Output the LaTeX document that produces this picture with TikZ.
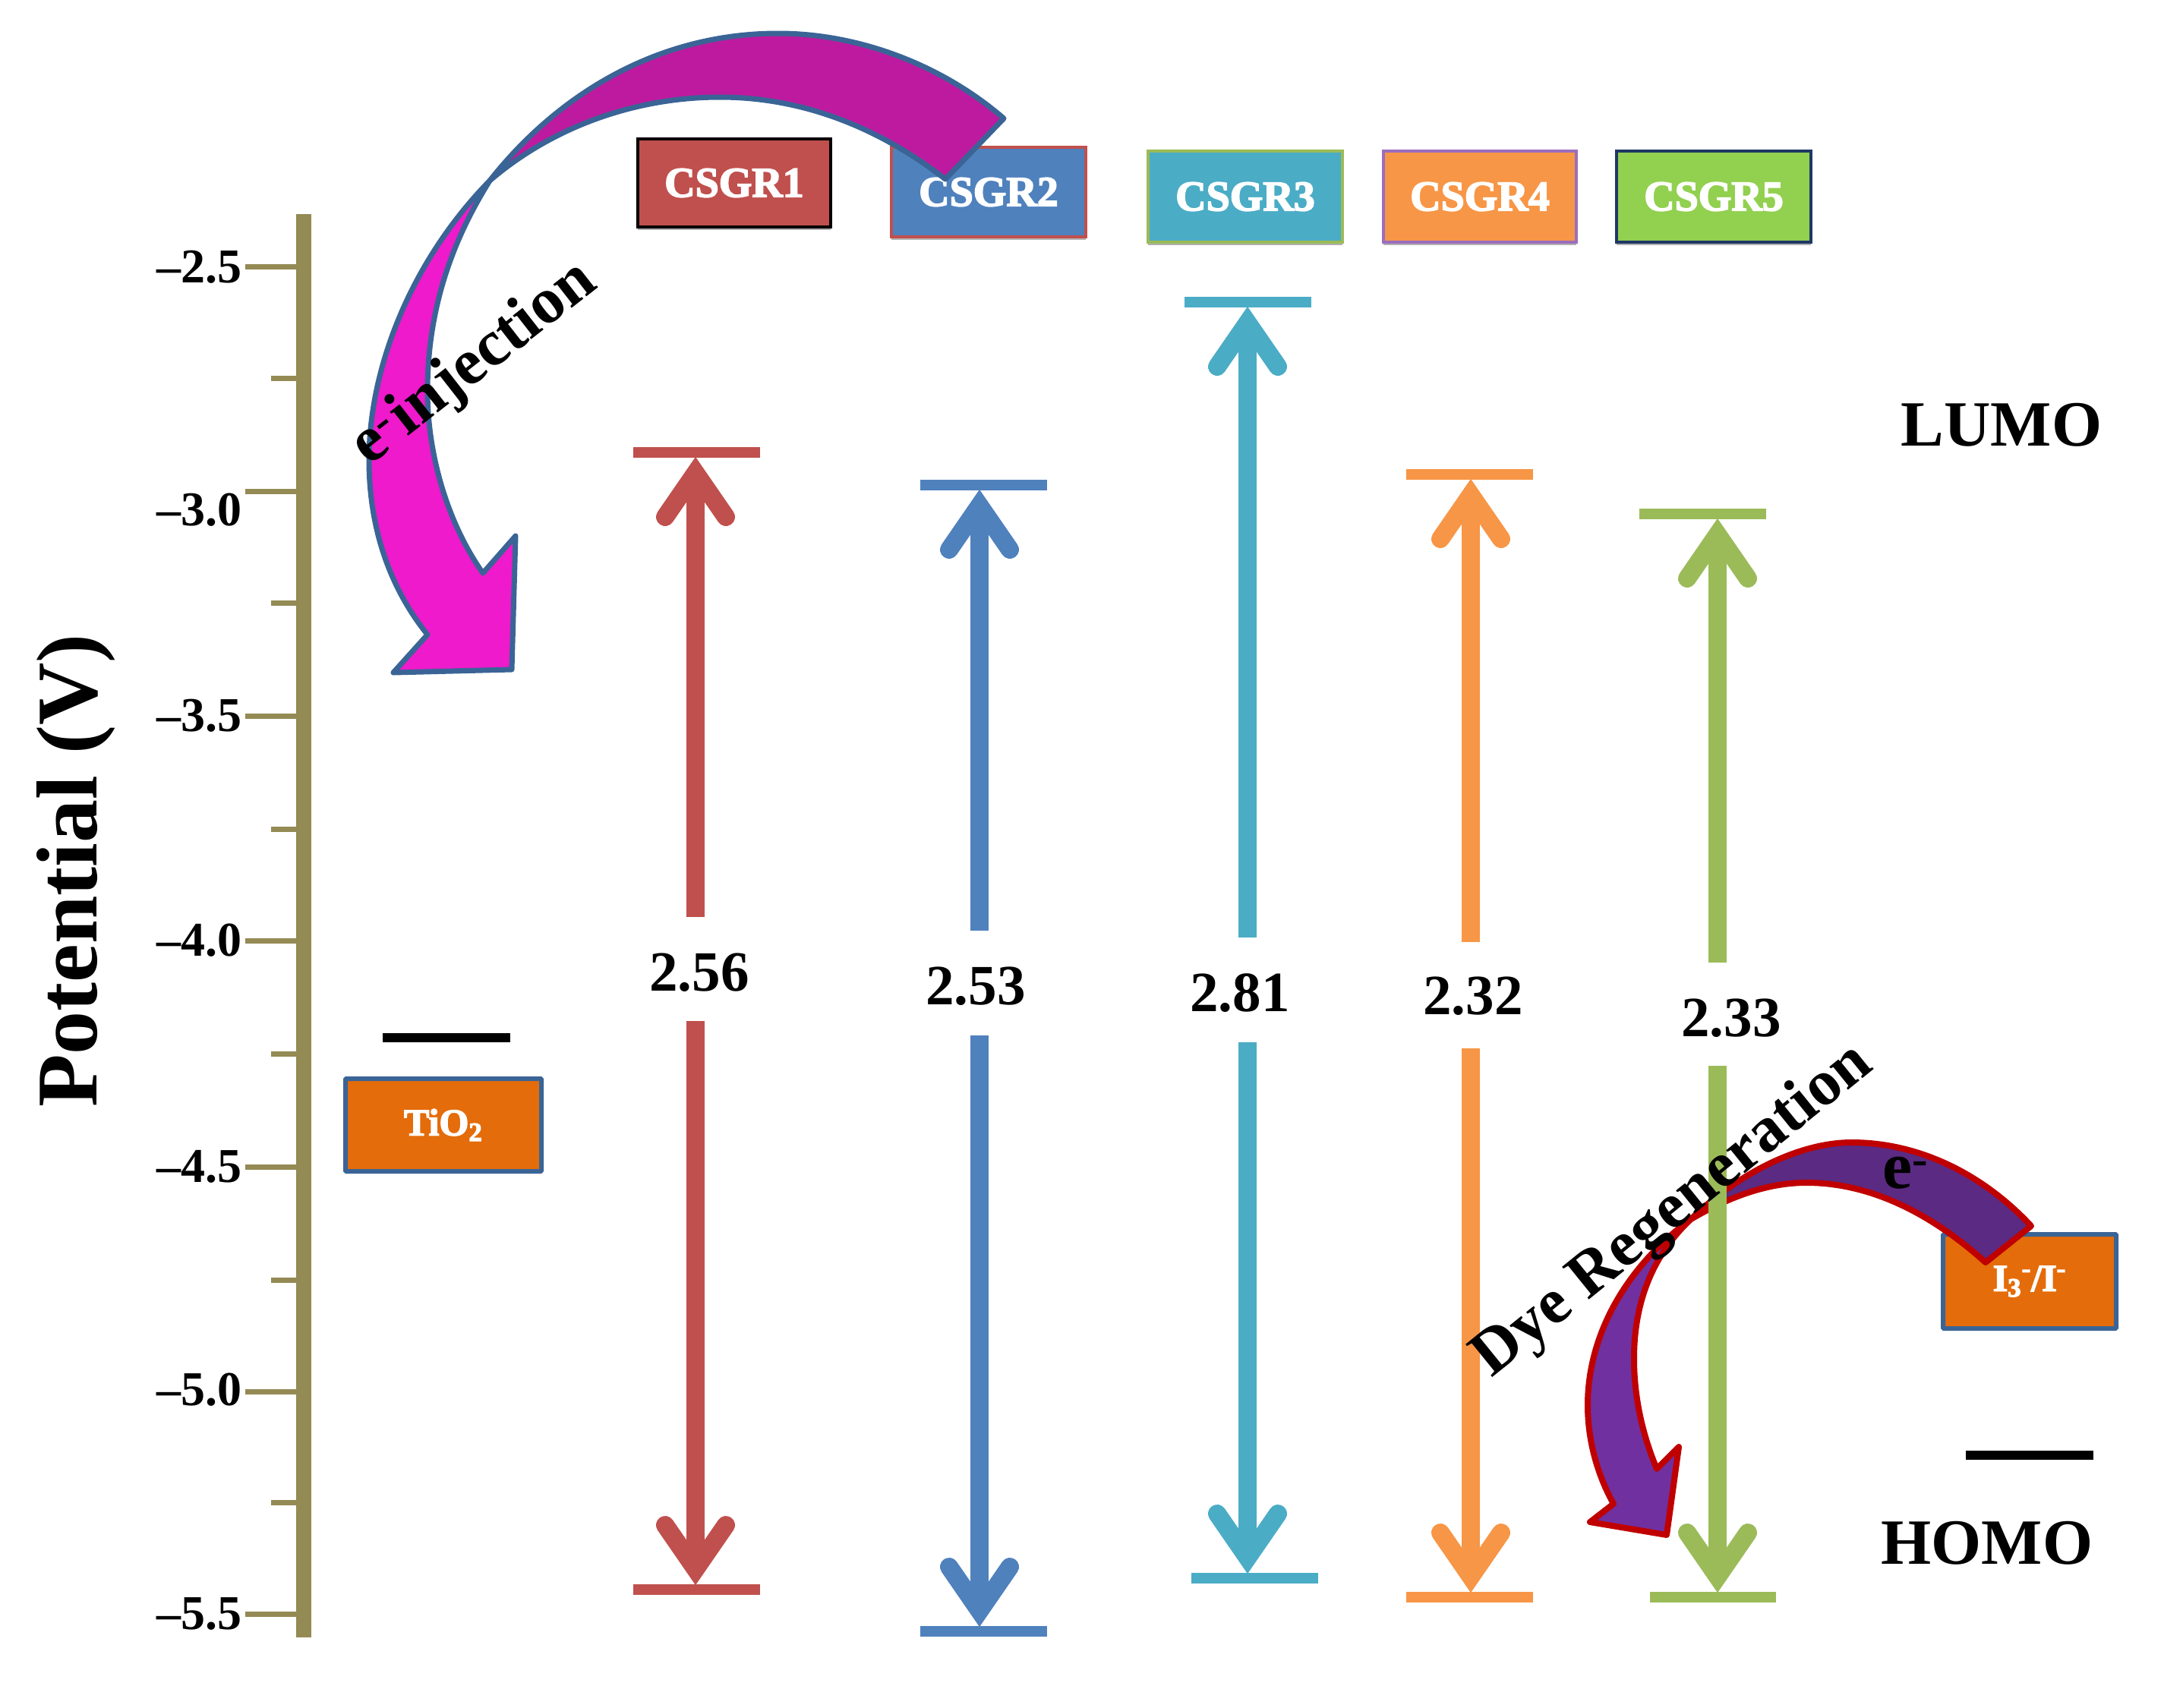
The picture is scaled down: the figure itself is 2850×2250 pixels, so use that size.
\documentclass[tikz,border=0pt]{standalone}
\usepackage{fontspec}
\setmainfont{Liberation Serif}
\usetikzlibrary{shadows}
\newfontfamily\fatserif[FakeBold=3]{Liberation Serif Bold}
\definecolor{axisc}{HTML}{948A54}
\definecolor{cone}{HTML}{C0504D}
\definecolor{ctwo}{HTML}{4F81BD}
\definecolor{cthree}{HTML}{4BACC6}
\definecolor{cfour}{HTML}{F79646}
\definecolor{cfive}{HTML}{9BBB59}
\definecolor{cfivebox}{HTML}{92D050}
\definecolor{navy}{HTML}{1F3864}
\definecolor{orangeb}{HTML}{E46C0A}
\definecolor{steel}{HTML}{3B6496}
\definecolor{magup}{HTML}{BE1AA0}
\definecolor{maglow}{HTML}{EE1ACB}
\definecolor{purpup}{HTML}{5B2A82}
\definecolor{purplow}{HTML}{7030A0}
\definecolor{darkred}{HTML}{C00000}
\tikzset{
  lab/.style={font=\bfseries\fontsize{#1}{#1}\selectfont, inner sep=0pt, text=black},
  lab/.default={37.5pt},
  dyebox/.style={draw=#1, line width=2pt, inner sep=0pt,
    font=\fatserif\fontsize{28pt}{28pt}\selectfont, text=white,
    drop shadow={shadow xshift=0pt, shadow yshift=-2pt, opacity=.3, fill=black}},
  bandbox/.style={draw=steel, fill=orangeb, line width=3pt, inner sep=0pt, rounded corners=.6pt,
    font=\fatserif\fontsize{25pt}{25pt}\selectfont, text=white},
  majort/.style={draw=axisc, line width=3.5pt},
  softshadow/.style={preaction={draw=black,draw opacity=.14,transform canvas={yshift=-2pt}}},
  lvl/.style={line width=7pt,softshadow},
  blackbar/.style={line width=6pt, draw=black,softshadow},
  shaft/.style={line width=12pt},
  headv/.style={line width=12pt, line cap=round, line join=miter},
  magborder/.style={draw=steel, line width=3.5pt, line join=round},
  purpborder/.style={draw=darkred, line width=4pt, line join=round},
}
\newcommand{\levels}[9]{%
  % #1 name #2 x #3 lumo y #4 #5 lumo bar #6 homo y #7 #8 homo bar #9 color
  \coordinate (#1top) at (#2,#3);
  \coordinate (#1bot) at (#2,#6);
  \coordinate (#1topL) at (#4,#3);
  \coordinate (#1topR) at (#5,#3);
  \coordinate (#1botL) at (#7,#6);
  \coordinate (#1botR) at (#8,#6);
  \draw[lvl,draw=#9] (#1topL) -- (#1topR);
  \draw[lvl,draw=#9] (#1botL) -- (#1botR);
  \draw[headv,draw=#9] ([shift={(-40,85)}]#1top) -- ([shift={(0,27)}]#1top) -- ([shift={(40,85)}]#1top);
  \draw[headv,draw=#9] ([shift={(-40,-85)}]#1bot) -- ([shift={(0,-27)}]#1bot) -- ([shift={(40,-85)}]#1bot);
}
\newcommand{\shafts}[4]{%
  % #1 name #2 gap top y #3 gap bottom y #4 color
  \draw[shaft,draw=#4] ([yshift=-13.5pt]#1top) -- (#1top |- 0,#2);
  \draw[shaft,draw=#4] ([yshift=13.5pt]#1bot) -- (#1bot |- 0,#3);
}
\begin{document}
\begin{tikzpicture}[x=.5pt,y=-.5pt]
\useasboundingbox (0,0) rectangle (2850,2250);
\fill[white] (0,0) rectangle (2850,2250);

% axis
\coordinate (axT) at (400,282);
\coordinate (axB) at (400,2157);
\draw[draw=axisc,line width=10pt] (axT) -- (axB);
\foreach \yy/\tt [count=\i] in {352/2.5,672/3.0,943/3.5,1239/4.0,1537/4.5,1831/5.0,2126/5.5}{
  \node[lab={32pt},anchor=east] (tick\i) at (319,\yy) {--\tt};
}
\foreach \yy in {351,647,943,1239,1537,1833,2126}{
  \coordinate (ma) at (323,\yy); \coordinate (mb) at (394,\yy);
  \draw[majort] (ma) -- (mb);
}
\foreach \yy in {498,794,1092,1388,1686,1979}{
  \coordinate (mia) at (357,\yy); \coordinate (mib) at (394,\yy);
  \draw[majort] (mia) -- (mib);
}
\node[lab={57pt},rotate=90] (ylab) at (100,1147) {Potential (V)};

% dye boxes
\node[dyebox=black,fill=cone,minimum width=127pt,minimum height=58pt] (c1) at (967,241) {CSGR1};
\node[dyebox=cone,fill=ctwo,minimum width=128pt,minimum height=59pt] (c2) at (1302,253) {CSGR2};
\node[dyebox=cfive,fill=cthree,minimum width=128pt,minimum height=60pt] (c3) at (1640,259) {CSGR3};
\node[dyebox=purplow!70!white,fill=cfour,minimum width=127pt,minimum height=60pt] (c4) at (1949,259) {CSGR4};
\node[dyebox=navy,fill=cfivebox,minimum width=128pt,minimum height=60pt] (c5) at (2257,259) {CSGR5};

% bands
\draw[blackbar] (504,1367) coordinate (tiA) -- (672,1367) coordinate (tiB);
\node[bandbox,minimum width=129pt,minimum height=61pt] (tio) at (584,1482) {TiO\textsubscript{2}};
\node[bandbox,minimum width=114pt,minimum height=62pt] (iod) at (2673,1688) {I\textsubscript{3}\textsuperscript{-}/I\textsuperscript{-}};
\draw[blackbar] (2589,1917) coordinate (iA) -- (2757,1917) coordinate (iB);

% dye regeneration arrow
\coordinate (p0) at (2675,1615); \coordinate (ppinch) at (2227,1606); \coordinate (p1) at (2615,1663);
\draw[purpborder,fill=purplow] (ppinch) .. controls (2140,1670) and (2091,1760) .. (2091,1851)
  .. controls (2091,1900) and (2105,1945) .. (2125,1981) -- (2094,2005) -- (2195,2022) -- (2211,1906) -- (2182,1935)
  .. controls (2163,1890) and (2152,1840) .. (2152,1790)
  .. controls (2152,1710) and (2180,1650) .. (ppinch) -- cycle;
\draw[purpborder,fill=purpup] (p0) .. controls (2610,1545) and (2525,1505) .. (2439,1505)
  .. controls (2370,1505) and (2290,1545) .. (ppinch)
  .. controls (2280,1575) and (2330,1558) .. (2379,1558)
  .. controls (2465,1558) and (2545,1600) .. (p1) -- cycle;

% level arrows
\levels{a}{916}{596}{834}{1001}{2094}{834}{1001}{cone}
\shafts{a}{1208}{1345}{cone}
\levels{b}{1290}{639}{1212}{1379}{2149}{1212}{1379}{ctwo}
\shafts{b}{1226}{1364}{ctwo}
\levels{d}{1643}{398}{1560}{1727}{2079}{1569}{1736}{cthree}
\shafts{d}{1235}{1373}{cthree}
\levels{e}{1937}{625}{1852}{2019}{2104}{1852}{2019}{cfour}
\shafts{e}{1241}{1381}{cfour}
\levels{f}{2262}{677}{2159}{2326}{2104}{2173}{2339}{cfive}
\shafts{f}{1268}{1404}{cfive}

% values
\node[lab] (v1) at (921,1281) {2.56};
\node[lab] (v2) at (1285,1299) {2.53};
\node[lab] (v3) at (1633,1308) {2.81};
\node[lab] (v4) at (1940,1312) {2.32};
\node[lab] (v5) at (2280,1341) {2.33};

% injection arrow
\coordinate (m0) at (1322,156); \coordinate (mpinch) at (645,238); \coordinate (m1) at (1245,236);
\draw[magborder,fill=maglow] (mpinch) .. controls (545,340) and (486,480) .. (486,606)
  .. controls (486,690) and (510,770) .. (563,836) -- (518,886) -- (674,882) -- (679,706) -- (636,755)
  .. controls (590,690) and (563,600) .. (563,515)
  .. controls (563,400) and (600,310) .. (mpinch) -- cycle;
\draw[magborder,fill=magup] (m0) .. controls (1240,85) and (1130,44) .. (1025,44)
  .. controls (860,44) and (730,130) .. (mpinch)
  .. controls (730,165) and (840,128) .. (948,128)
  .. controls (1060,128) and (1160,170) .. (m1) -- cycle;

% texts
\node[lab={43pt},rotate=38] (inj) at (625,480) {e\textsuperscript{-}\hspace{.06em}injection};
\node[lab={42.5pt},rotate=39] (dye) at (2204,1596) {Dye Regeneration};
\node[lab={44pt}] (eminus) at (2510,1545) {e\textsuperscript{-}};
\node[lab={42.5pt}] (lumo) at (2636,560) {LUMO};
\node[lab={42.5pt}] (homo) at (2617,2033) {HOMO};
\end{tikzpicture}
\end{document}
